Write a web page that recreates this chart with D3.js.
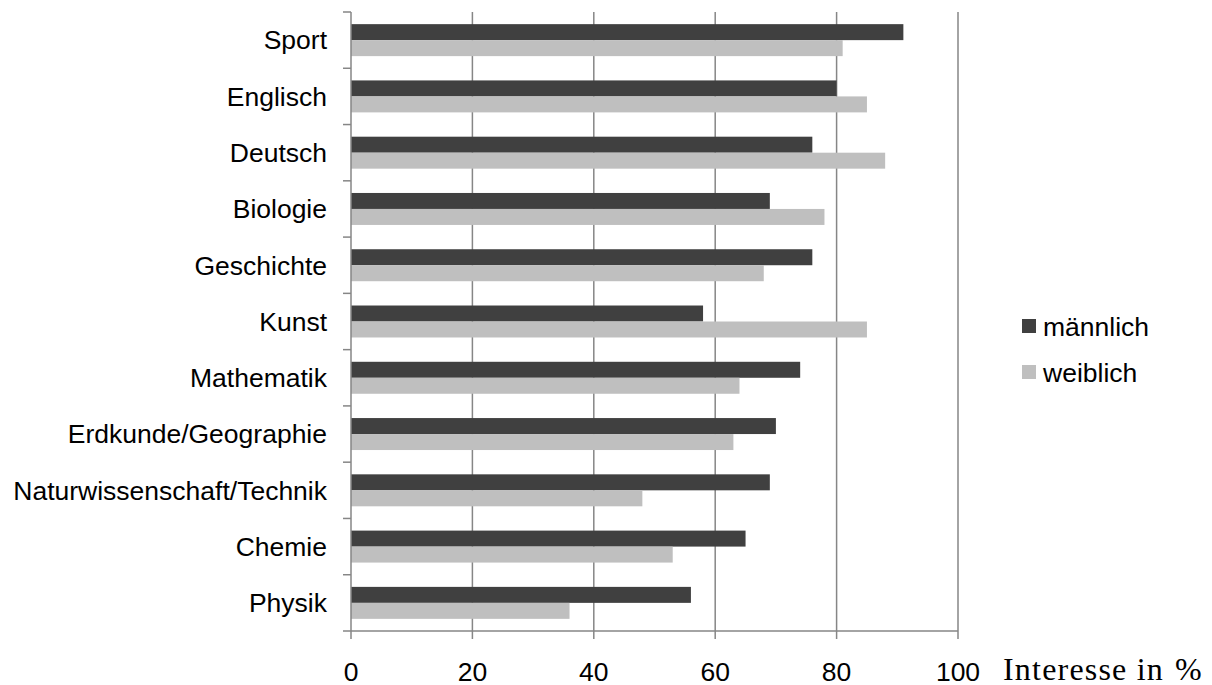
<!DOCTYPE html>
<html>
<head>
<meta charset="utf-8">
<script src="https://cdn.jsdelivr.net/npm/d3@7"></script>
<style>
  body { margin: 0; background: #fff; }
  svg text { font-family: "Liberation Sans", Arial, sans-serif; fill: #000; }
</style>
</head>
<body>
<svg id="chart" width="1212" height="685"></svg>
<script>
// Interesse an Schulfächern, nach Geschlecht (in %)
const subjects = ['Sport', 'Englisch', 'Deutsch', 'Biologie', 'Geschichte', 'Kunst',
  'Mathematik', 'Erdkunde/Geographie', 'Naturwissenschaft/Technik', 'Chemie', 'Physik'];
const maennlich = [91, 80, 76, 69, 76, 58, 74, 70, 69, 65, 56];
const weiblich = [81, 85, 88, 78, 68, 85, 64, 63, 48, 53, 36];
const seriesNames = ['männlich', 'weiblich'];
const seriesColors = ['#404040', '#bfbfbf'];
const xTicks = [0, 20, 40, 60, 80, 100];

(function () {
  const svg = d3.select('#chart');
  const plotLeft = 351, plotRight = 958, plotTop = 12, plotBottom = 631;
  const fontSize = 26.5;

  const x = d3.scaleLinear().domain([0, 100]).range([plotLeft, plotRight]);
  const y = d3.scaleBand().domain(subjects).range([plotTop, plotBottom]).padding(0);
  const sub = d3.scaleBand().domain(seriesNames).range([0, y.bandwidth()])
    .paddingInner(0).paddingOuter(0.76);

  // vertical gridlines
  svg.append('g').selectAll('line').data(xTicks.slice(1)).join('line')
    .attr('x1', d => x(d)).attr('x2', d => x(d))
    .attr('y1', plotTop).attr('y2', plotBottom)
    .attr('stroke', '#868686').attr('stroke-width', 1.5);

  // bars
  const rows = subjects.map((s, i) => ({ s, vals: [maennlich[i], weiblich[i]] }));
  const g = svg.append('g').selectAll('g').data(rows).join('g')
    .attr('transform', d => `translate(0,${y(d.s)})`);
  g.selectAll('rect').data(d => d.vals.map((v, k) => ({ v, k }))).join('rect')
    .attr('x', x(0))
    .attr('y', d => sub(seriesNames[d.k]))
    .attr('width', d => x(d.v) - x(0))
    .attr('height', sub.bandwidth())
    .attr('fill', d => seriesColors[d.k]);

  // left axis: line + outward ticks at band borders
  const axisColor = '#868686';
  svg.append('line').attr('x1', plotLeft).attr('x2', plotLeft).attr('y1', plotTop).attr('y2', plotBottom)
    .attr('stroke', axisColor).attr('stroke-width', 1.5);
  const borders = subjects.map(s => y(s)).concat([plotBottom]);
  svg.append('g').selectAll('line').data(borders).join('line')
    .attr('x1', plotLeft - 8).attr('x2', plotLeft)
    .attr('y1', d => d).attr('y2', d => d)
    .attr('stroke', axisColor).attr('stroke-width', 1.5);
  svg.append('g').selectAll('text').data(subjects).join('text')
    .attr('x', plotLeft - 24)
    .attr('y', d => y(d) + y.bandwidth() / 2)
    .attr('dy', '0.35em')
    .attr('text-anchor', 'end')
    .attr('font-size', fontSize)
    .text(d => d);

  // bottom axis
  svg.append('line').attr('x1', plotLeft).attr('x2', plotRight).attr('y1', plotBottom).attr('y2', plotBottom)
    .attr('stroke', axisColor).attr('stroke-width', 1.5);
  svg.append('g').selectAll('line').data(xTicks).join('line')
    .attr('x1', d => x(d)).attr('x2', d => x(d))
    .attr('y1', plotBottom).attr('y2', plotBottom + 8)
    .attr('stroke', axisColor).attr('stroke-width', 1.5);
  svg.append('g').selectAll('text').data(xTicks).join('text')
    .attr('x', d => x(d))
    .attr('y', 681)
    .attr('text-anchor', 'middle')
    .attr('font-size', fontSize)
    .text(d => d);

  // axis title (serif, as in the source)
  const titleFont = '"Liberation Serif", "DejaVu Serif", serif';
  svg.append('text')
    .attr('x', 1003).attr('y', 680)
    .attr('font-size', 32)
    .style('letter-spacing', '1.2px')
    .style('font-family', titleFont)
    .text('Interesse in');
  svg.append('text')
    .attr('x', 1175).attr('y', 680)
    .attr('font-size', 32)
    .style('font-family', titleFont)
    .text('%');

  // legend
  const leg = svg.append('g').selectAll('g').data(seriesNames).join('g')
    .attr('transform', (d, i) => `translate(1022,${319 + i * 46})`);
  leg.append('rect').attr('width', 14).attr('height', 14)
    .attr('fill', (d, i) => seriesColors[i]);
  leg.append('text').attr('x', 21).attr('y', 17)
    .attr('font-size', fontSize).text(d => d);
})();
</script>
</body>
</html>
